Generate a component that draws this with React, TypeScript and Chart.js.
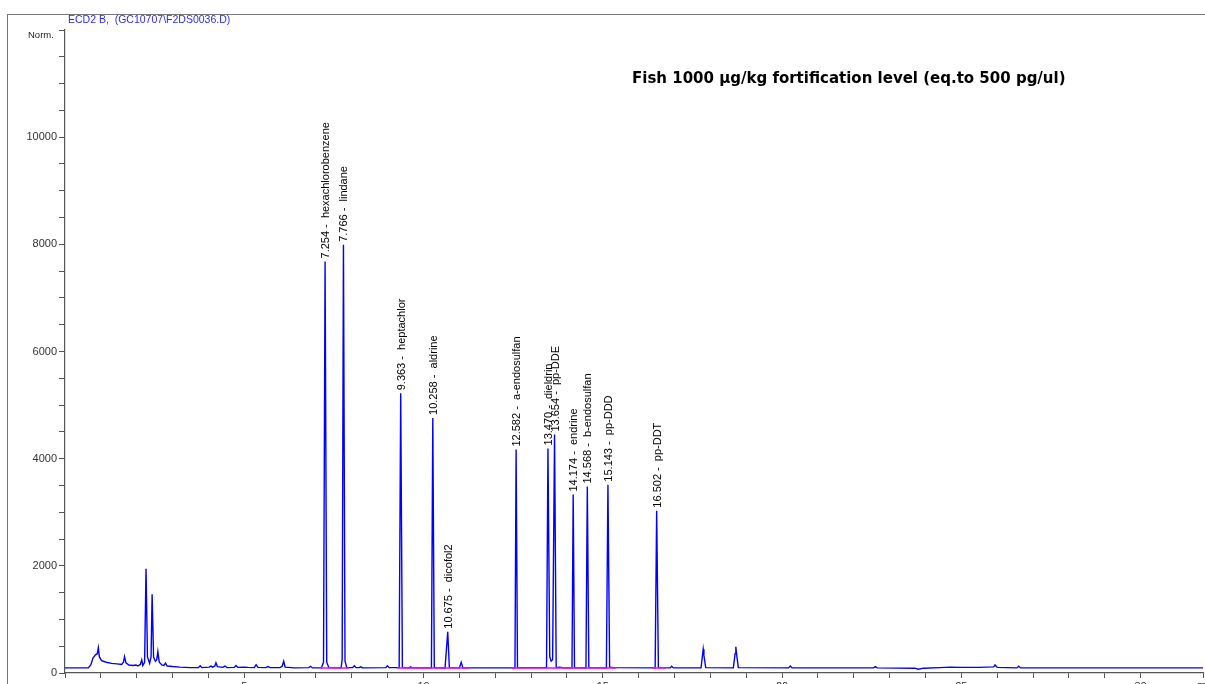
import React, { useEffect, useRef } from 'react';
import { Chart, registerables } from 'chart.js';
Chart.register(...registerables);

// Chromatogram trace: retention time (min) and detector signal (Norm.)
const traceTime = [
  0.0, 0.65, 0.72, 0.78, 0.85, 0.9, 0.93, 0.96, 1.02, 1.15, 1.3, 1.45, 1.58, 1.63, 1.66, 1.7, 1.78, 1.9, 1.98, 2.03,
  2.1, 2.14, 2.17, 2.22, 2.26, 2.3, 2.36, 2.4, 2.43, 2.47, 2.52, 2.56, 2.59, 2.63, 2.7, 2.76, 2.8, 2.85, 3.0, 3.2,
  3.5, 3.72, 3.77, 3.82, 4.02, 4.07, 4.12, 4.18, 4.21, 4.25, 4.4, 4.46, 4.52, 4.72, 4.77, 4.82, 5.0, 5.1, 5.28, 5.33,
  5.38, 5.6, 5.66, 5.72, 6.0, 6.06, 6.1, 6.14, 6.4, 6.8, 6.85, 6.9, 7.15, 7.21, 7.254, 7.3, 7.36, 7.7, 7.73, 7.766,
  7.81, 7.86, 8.02, 8.07, 8.12, 8.2, 8.25, 8.3, 8.95, 8.99, 9.04, 9.32, 9.363, 9.41, 9.6, 9.64, 9.68, 10.22, 10.258, 10.3,
  10.6, 10.675, 10.72, 11.0, 11.05, 11.1, 12.55, 12.582, 12.62, 13.43, 13.47, 13.52, 13.56, 13.6, 13.654, 13.7, 13.8, 13.9, 14.14, 14.174,
  14.21, 14.53, 14.568, 14.61, 15.1, 15.143, 15.19, 15.3, 16.46, 16.502, 16.55, 16.88, 16.92, 16.97, 17.74, 17.78, 17.8, 17.82, 17.87, 18.64,
  18.69, 18.71, 18.73, 18.78, 20.18, 20.23, 20.28, 22.55, 22.6, 22.65, 23.7, 23.8, 23.95, 24.4, 24.7, 25.0, 25.5, 25.9, 25.94, 26.0,
  26.55, 26.6, 26.65, 28.0, 31.74,
];
const traceSignal = [
  95, 95, 150, 280, 340, 360, 470, 300, 230, 200, 180, 170, 160, 200, 305, 190, 150, 140, 150, 130,
  160, 245, 140, 200, 1945, 300, 180, 300, 1470, 300, 220, 250, 400, 200, 150, 140, 185, 130, 120, 110,
  100, 100, 135, 100, 110, 130, 110, 130, 190, 120, 105, 130, 100, 105, 140, 105, 110, 105, 100, 155,
  105, 100, 120, 100, 100, 130, 220, 110, 95, 100, 125, 95, 95, 200, 7680, 200, 100, 95, 250, 7990,
  220, 100, 100, 135, 100, 100, 115, 95, 100, 135, 100, 100, 5220, 100, 95, 115, 95, 95, 4760, 100,
  95, 770, 100, 95, 200, 95, 95, 4170, 100, 100, 4190, 300, 220, 250, 4450, 100, 110, 95, 95, 3330,
  100, 95, 3480, 100, 95, 3515, 110, 100, 95, 3030, 100, 95, 125, 95, 95, 330, 445, 330, 100, 95,
  360, 490, 360, 100, 95, 130, 95, 95, 120, 95, 90, 70, 90, 100, 110, 105, 105, 115, 150, 105,
  95, 125, 95, 95, 95,
];

// Integrated peaks
const peakRT = [7.254, 7.766, 9.363, 10.258, 10.675, 12.582, 13.47, 13.654, 14.174, 14.568, 15.143, 16.502];
const peakName = [
  'hexachlorobenzene', 'lindane', 'heptachlor', 'aldrine', 'dicofol2', 'a-endosulfan',
  'dieldrin', 'pp-DDE', 'endrine', 'b-endosulfan', 'pp-DDD', 'pp-DDT',
];

// Integration baselines (magenta)
const baseStart = [7.13, 9.26, 12.45, 16.38];
const baseEnd = [7.92, 11.28, 15.38, 16.76];
const baseLevel = [92, 92, 92, 92];

const xMin = 0;
const xMax = 31.74;
const yMin = 0;
const yMax = 12000;

const headerText = 'ECD2 B,  (GC10707\\F2DS0036.D)';
const yUnit = 'Norm.';
const titleText = 'Fish 1000 \u00b5g/kg fortification level (eq.to 500 pg/ul)';
const xUnit = 'min';

const FONT = '"Liberation Sans", Arial, Helvetica, sans-serif';

export default function App() {
  const ref = useRef<HTMLCanvasElement | null>(null);

  useEffect(() => {
    document.body.style.margin = '0';
    const canvas = ref.current;
    if (!canvas) return;

    const trace = traceTime.map((t, i) => ({ x: t, y: traceSignal[i] }));
    const base: { x: number; y: number | null }[] = [];
    baseStart.forEach((s, i) => {
      base.push({ x: s, y: baseLevel[i] });
      base.push({ x: baseEnd[i], y: baseLevel[i] });
      base.push({ x: baseEnd[i] + 0.001, y: null });
    });

    const labelPlugin = {
      id: 'peakLabels',
      afterDatasetsDraw(chart: any) {
        const { ctx, scales } = chart;
        const xs = scales.x;
        const ys = scales.y;
        ctx.save();
        ctx.font = `11px ${FONT}`;
        ctx.fillStyle = '#000';
        peakRT.forEach((rt, i) => {
          let apex = 0;
          traceTime.forEach((t, j) => {
            if (Math.abs(t - rt) < 0.02 && traceSignal[j] > apex) apex = traceSignal[j];
          });
          const px = xs.getPixelForValue(rt);
          const py = ys.getPixelForValue(apex);
          ctx.save();
          ctx.translate(px + 1, py - 3);
          ctx.rotate(-Math.PI / 2);
          ctx.textAlign = 'left';
          ctx.textBaseline = 'middle';
          ctx.fillText(`${rt.toFixed(3)} -  ${peakName[i]}`, 0, 0);
          ctx.restore();
        });
        // x unit at right end
        ctx.font = `11px ${FONT}`;
        ctx.fillStyle = '#333';
        ctx.textAlign = 'left';
        ctx.textBaseline = 'top';
        ctx.fillText(xUnit, 1197, 680);
        ctx.restore();
      },
    };

    const chart = new Chart(canvas, {
      type: 'line',
      data: {
        datasets: [
          {
            data: base as any,
            borderColor: '#ff00ff',
            borderWidth: 1.5,
            pointRadius: 0,
            spanGaps: false,
            order: 0,
          },
          {
            data: trace,
            borderColor: '#0000ff',
            borderWidth: 1.4,
            pointRadius: 0,
            tension: 0,
            order: 1,
          },
        ],
      },
      options: {
        responsive: false,
        animation: false,
        layout: { padding: { top: 30, left: 0, right: 0, bottom: 0 } },
        plugins: { legend: { display: false }, tooltip: { enabled: false }, title: { display: false } },
        scales: {
          x: {
            type: 'linear',
            min: xMin,
            max: xMax,
            afterFit: (s: any) => { s.height = 11; },
            border: { color: '#555', width: 1.2 },
            grid: { drawOnChartArea: false, drawTicks: true, tickLength: 5, color: '#555' },
            ticks: {
              stepSize: 1,
              autoSkip: false,
              maxRotation: 0,
              padding: 2,
              color: '#333',
              font: { family: FONT, size: 11 },
              callback: (v: any) => (Number(v) % 5 === 0 && Number(v) > 0 ? String(v) : ''),
            },
          },
          y: {
            type: 'linear',
            min: yMin,
            max: yMax,
            afterFit: (s: any) => { s.width = 65; },
            border: { color: '#555', width: 1.2 },
            grid: { drawOnChartArea: false, drawTicks: true, tickLength: 6, color: '#555' },
            ticks: {
              stepSize: 500,
              autoSkip: false,
              maxTicksLimit: 100,
              padding: 2,
              color: '#333',
              font: { family: FONT, size: 11 },
              callback: (v: any) => (Number(v) % 2000 === 0 && Number(v) < 12000 ? String(v) : ''),
            },
          },
        },
      },
      plugins: [labelPlugin],
    });
    return () => chart.destroy();
  }, []);

  return (
    <div style={{ position: 'relative', width: 1205, height: 684, overflow: 'hidden', background: '#fff' }}>
      <canvas ref={ref} width={1205} height={684} style={{ position: 'absolute', left: 0, top: 0, width: 1205, height: 684 }} />
      <div style={{ position: 'absolute', left: 7, top: 14, width: 1210, height: 700, borderTop: '1px solid #777', borderLeft: '1px solid #777' }} />
      <div style={{ position: 'absolute', left: 68, top: 13, font: `10.5px ${FONT}`, color: '#2a2aff', whiteSpace: 'pre' }}>{headerText}</div>
      <div style={{ position: 'absolute', left: 28, top: 29, font: `9.5px ${FONT}`, color: '#222' }}>{yUnit}</div>
      <div style={{ position: 'absolute', left: 632, top: 71, font: `bold 15px "DejaVu Sans", ${FONT}`, lineHeight: '15px', color: '#000', whiteSpace: 'pre' }}>{titleText}</div>
    </div>
  );
}
